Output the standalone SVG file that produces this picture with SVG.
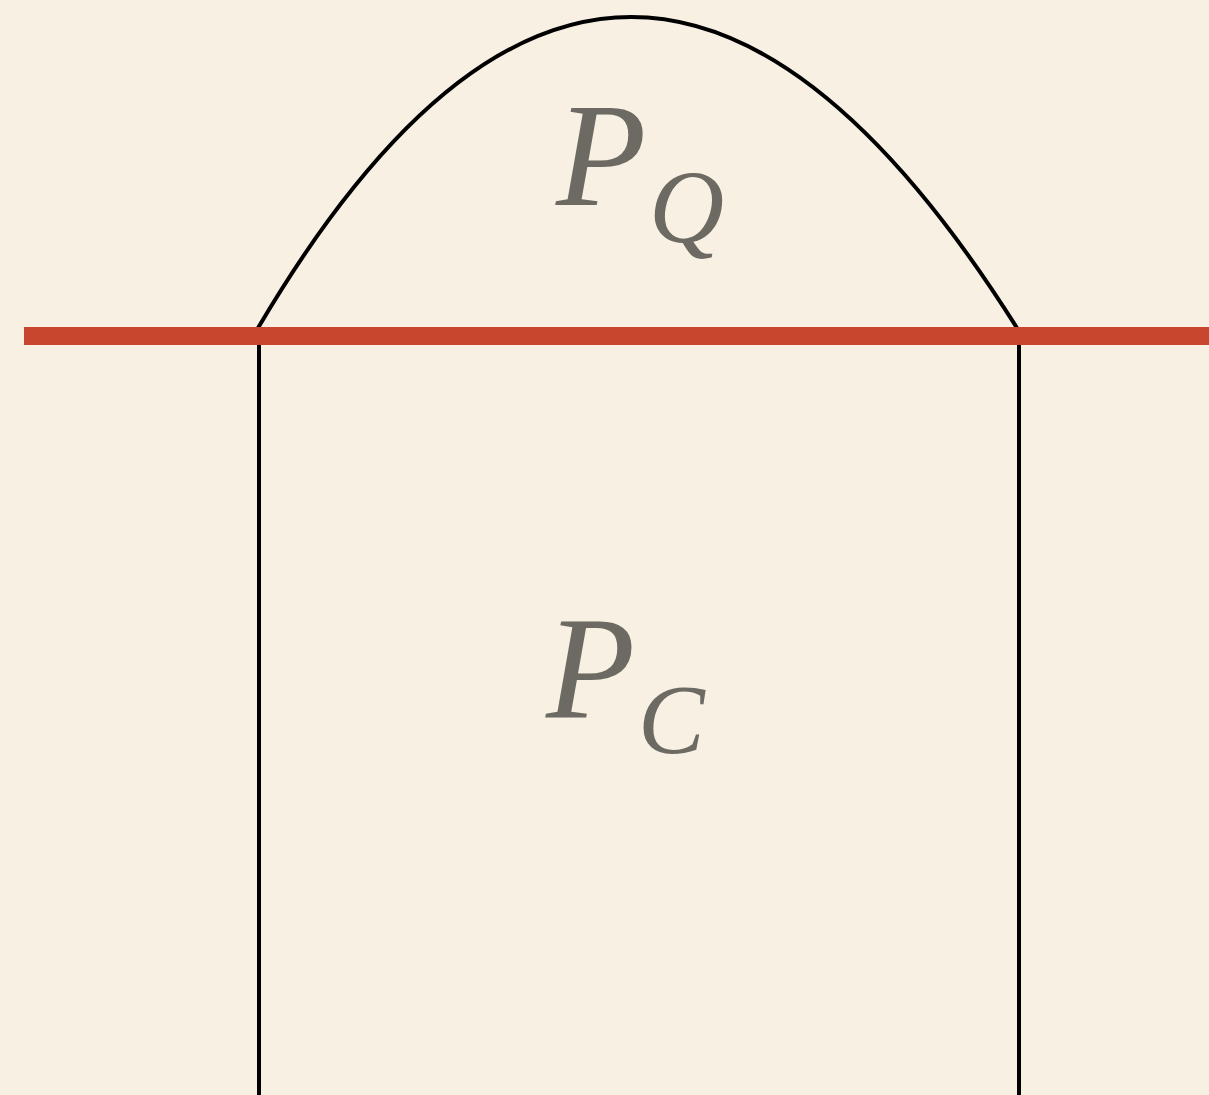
<svg xmlns="http://www.w3.org/2000/svg" width="1209" height="1095" viewBox="0 0 1209 1095">
<style>
.edge{fill:none;stroke:#000;stroke-width:4}
.lbl{fill:#6c6a62;font-family:'Liberation Serif','Times New Roman',Times,serif;font-style:italic}
</style>
<rect width="1209" height="1095" fill="#f7f0e3"/>
<g id="connectors">
<path id="dome" class="edge" d="M258,328 Q625,-294 1017,328"/>
<path id="walls" class="edge" d="M259,336 V1095 M1019,336 V1095"/>
<line id="divider" x1="24" y1="336" x2="1209" y2="336" stroke="#c8462e" stroke-width="18"/>
</g>
<g id="node-PQ">
<text class="lbl" x="556" y="205" font-size="148">P</text>
<text class="lbl" x="649" y="242" font-size="104">Q</text>
</g>
<g id="node-PC">
<text class="lbl" x="546" y="718" font-size="146">P</text>
<text class="lbl" x="638" y="753" font-size="100">C</text>
</g>
</svg>
